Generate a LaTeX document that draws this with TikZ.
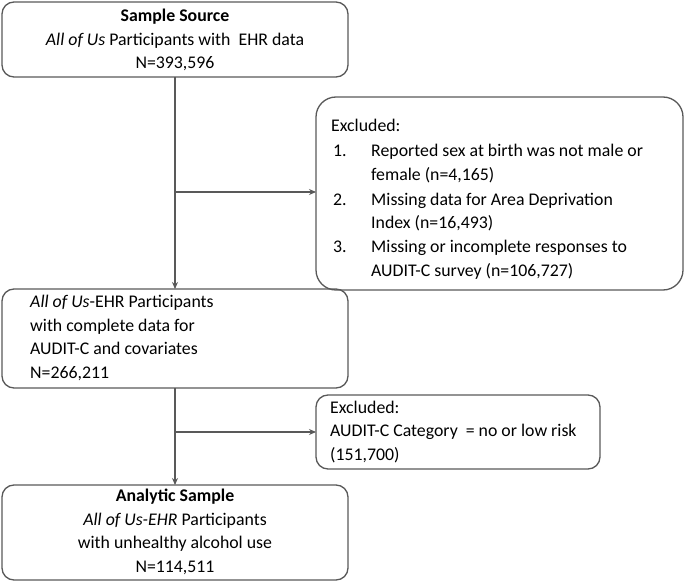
\documentclass[tikz,border=0pt]{standalone}
\usepackage{fontspec}
\setmainfont{Carlito}
\usetikzlibrary{arrows.meta}
\begin{document}
\begin{tikzpicture}[x=1pt,y=-1pt,
  box/.style={draw=black!65,line width=1.3pt,rounded corners=12pt},
  txt/.style={font=\fontsize{17.8}{23.5}\selectfont,inner sep=0pt},
  arr/.style={draw=black!65,line width=1.2pt,-{Stealth[length=7pt,width=6pt]}}]
\useasboundingbox (0,0) rectangle (685,588);
\draw[box] (2,2) rectangle (348,77);
\node[txt,align=center] (t1) at (175,40) {\textbf{Sample Source}\\\textit{All of Us} Participants with\ \ EHR data\\N=393,596};
\draw[box,rounded corners=20pt] (316,97) rectangle (683,290);
\node[txt,anchor=base west] (t2) at (331,132) {Excluded:};
\node[txt,anchor=base west] (n1) at (333,157) {1.};
\node[txt,anchor=base west] (n2) at (333,205) {2.};
\node[txt,anchor=base west] (n3) at (333,252) {3.};
\node[txt,anchor=base west] (i1) at (371,157) {Reported sex at birth was not male or};
\node[txt,anchor=base west] (i1b) at (371,181) {female (n=4,165)};
\node[txt,anchor=base west] (i2) at (371,205) {Missing data for Area Deprivation};
\node[txt,anchor=base west] (i2b) at (371,228) {Index (n=16,493)};
\node[txt,anchor=base west] (i3) at (371,252) {Missing or incomplete responses to};
\node[txt,anchor=base west] (i3b) at (371,276) {AUDIT-C survey (n=106,727)};
\draw[box] (2,289) rectangle (348,388);
\node[txt,anchor=west,align=left] (t3) at (30,338) {\textit{All of Us}-EHR Participants\\with complete data for\\AUDIT-C and covariates\\N=266,211};
\draw[box] (316,395) rectangle (600,469);
\node[txt,anchor=west,align=left] (t4) at (330,432) {Excluded:\\AUDIT-C Category\ \ = no or low risk\\(151,700)};
\draw[box] (2,485) rectangle (348,580);
\node[txt,align=center] (t5) at (175,532) {\textbf{Analytic Sample}\\\textit{All of Us-EHR} Participants\\with unhealthy alcohol use\\N=114,511};
\coordinate (a1) at (175,77); \coordinate (a2) at (175,289);
\coordinate (h1) at (175,192); \coordinate (h2) at (316,192);
\coordinate (b1) at (175,388); \coordinate (b2) at (175,485);
\coordinate (k1) at (175,432); \coordinate (k2) at (316,432);
\draw[arr] (a1) -- (a2);
\draw[arr] (h1) -- (h2);
\draw[arr] (b1) -- (b2);
\draw[arr] (k1) -- (k2);
\end{tikzpicture}
\end{document}
